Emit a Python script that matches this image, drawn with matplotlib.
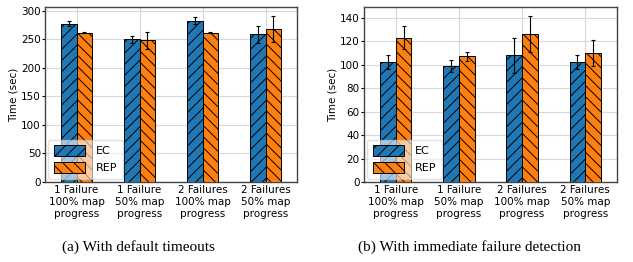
import numpy as np
import matplotlib.pyplot as plt

# ───── data ─────────────────────────────────────────────────────────────
CATEGORIES = ["1 Failure\n100% map\nprogress", "1 Failure\n50% map\nprogress",
              "2 Failures\n100% map\nprogress", "2 Failures\n50% map\nprogress"]

EC_DEFAULT      = [278, 250, 283, 259]
EC_DEFAULT_ERR  = [5, 7, 6, 15]
REP_DEFAULT     = [262, 249, 262, 269]
REP_DEFAULT_ERR = [1, 15, 1, 23]

EC_IMMED      = [102, 99, 108, 102]
EC_IMMED_ERR  = [6, 5, 15, 6]
REP_IMMED     = [123, 107, 126, 110]
REP_IMMED_ERR = [10, 4, 15, 11]

CAPTIONS = ["(a) With default timeouts", "(b) With immediate failure detection"]

BLUE, ORANGE = "#1f77b4", "#ff7f0e"
W = 0.25

plt.rcParams["hatch.linewidth"] = 0.7

fig = plt.figure(figsize=(6.33, 2.62), dpi=100)
ax1 = fig.add_axes([45 / 633, 80 / 262, 252 / 633, 175 / 262])
ax2 = fig.add_axes([364 / 633, 80 / 262, 253 / 633, 175 / 262])


def panel(ax, ec, ec_err, rep, rep_err, ymax, yticks):
    x = np.arange(len(CATEGORIES))
    ax.bar(x - W / 2, ec, W, yerr=ec_err, color=BLUE, edgecolor="black",
           linewidth=0.7, hatch="///", capsize=1.5,
           error_kw=dict(elinewidth=0.8, capthick=0.8), label="EC", zorder=3)
    ax.bar(x + W / 2, rep, W, yerr=rep_err, color=ORANGE, edgecolor="black",
           linewidth=0.7, hatch="\\\\\\", capsize=1.5,
           error_kw=dict(elinewidth=0.8, capthick=0.8), label="REP", zorder=3)
    ax.set_xlim(-0.5, 3.5)
    ax.set_ylim(0, ymax)
    ax.set_yticks(yticks)
    ax.set_xticks(x)
    ax.set_xticklabels(CATEGORIES, fontsize=7.5, linespacing=1.2)
    ax.tick_params(axis="y", labelsize=7.5, length=2, pad=1)
    ax.tick_params(axis="x", length=0, pad=2.5)
    ax.set_ylabel("Time (sec)", fontsize=7.5, labelpad=2)
    ax.grid(True, color="#d8d8d8", linewidth=0.8, zorder=0)
    for s in ax.spines.values():
        s.set_color("#444444")
        s.set_linewidth(1.0)
    ax.legend(loc="lower left", fontsize=8, framealpha=0.6,
              handlelength=2.8, handleheight=1.1, borderaxespad=0.3,
              handletextpad=1.0, borderpad=0.5)


panel(ax1, EC_DEFAULT, EC_DEFAULT_ERR, REP_DEFAULT, REP_DEFAULT_ERR,
      307, np.arange(0, 301, 50))
panel(ax2, EC_IMMED, EC_IMMED_ERR, REP_IMMED, REP_IMMED_ERR,
      149, np.arange(0, 141, 20))

fig.text(138 / 633, 1 - 247 / 262, CAPTIONS[0], ha="center", va="center",
         fontsize=11, family="Liberation Serif")
fig.text(470 / 633, 1 - 247 / 262, CAPTIONS[1], ha="center", va="center",
         fontsize=11, family="Liberation Serif")

fig.savefig("out.png", dpi=100)
